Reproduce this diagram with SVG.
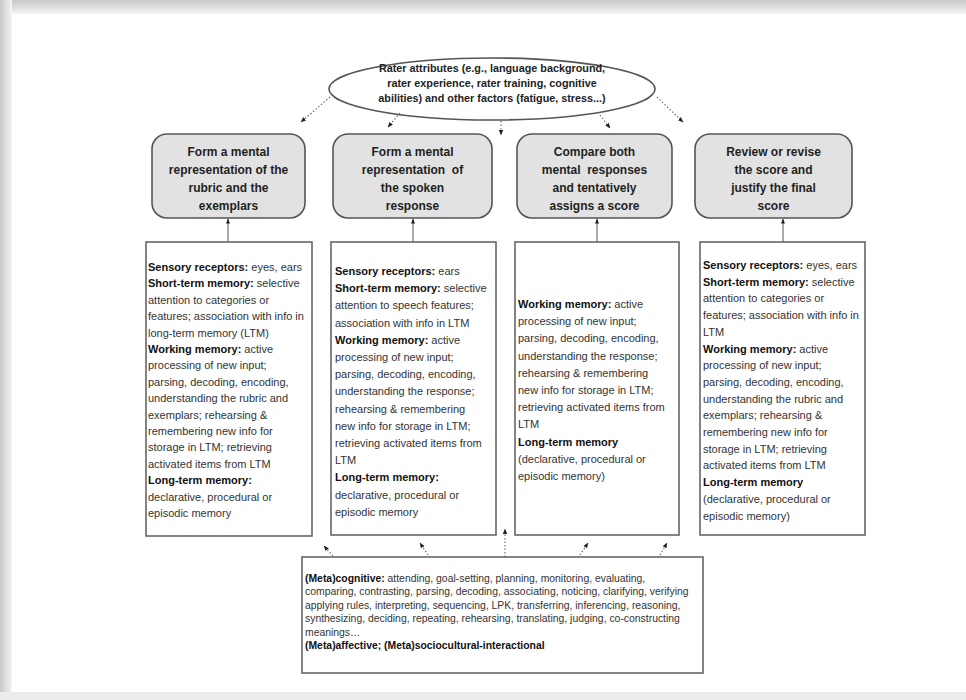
<svg xmlns="http://www.w3.org/2000/svg" width="966" height="700" viewBox="0 0 966 700">
<defs>
<linearGradient id="gTop" x1="0" y1="0" x2="0" y2="1"><stop offset="0" stop-color="#c8c8c8"/><stop offset="1" stop-color="#f4f4f4"/></linearGradient>
<linearGradient id="gLeft" x1="0" y1="0" x2="1" y2="0"><stop offset="0" stop-color="#c8c8c8"/><stop offset="1" stop-color="#f4f4f4"/></linearGradient>
<marker id="ah" viewBox="0 0 10 10" refX="9" refY="5" markerWidth="5" markerHeight="5" orient="auto-start-reverse"><path d="M0,1 L10,5 L0,9 z" fill="#222"/></marker>
</defs>
<style>
.hd{fill:#e2e2e2;stroke:#555;stroke-width:1.6}
.bx{fill:#fff;stroke:#666;stroke-width:1.6}
.ht{font-family:"Liberation Sans",Arial,sans-serif;font-size:12px;font-weight:bold;fill:#222;text-anchor:middle}
.et{font-family:"Liberation Sans",Arial,sans-serif;font-size:10.8px;font-weight:bold;fill:#222;text-anchor:middle}
.tt{font-family:"Liberation Sans",Arial,sans-serif;font-size:11px;fill:#333}
.bt{font-family:"Liberation Sans",Arial,sans-serif;font-size:10.4px;fill:#333}
.b{font-weight:bold;fill:#111}
.dot{fill:none;stroke:#666;stroke-width:1.1;stroke-dasharray:1.5 2}
.sol{fill:none;stroke:#555;stroke-width:1}
</style>
<rect x="0" y="0" width="966" height="700" fill="#fff"/>
<rect x="0" y="0" width="966" height="14" fill="url(#gTop)"/>
<rect x="0" y="0" width="12" height="700" fill="url(#gLeft)"/>
<rect x="0" y="692" width="966" height="8" fill="#ececec"/>

<g id="rater-attributes">
<ellipse cx="492" cy="89" rx="163" ry="31" fill="#fff" stroke="#555" stroke-width="1.6"/>
<text class="et" x="492" y="72">Rater attributes (e.g., language background,</text>
<text class="et" x="492" y="87">rater experience, rater training, cognitive</text>
<text class="et" x="492" y="102">abilities) and other factors (fatigue, stress...)</text>
</g>

<g id="step1">
<rect class="hd" x="152" y="134" width="153" height="84" rx="15"/>
<text class="ht" x="228.5" y="156">Form a mental</text>
<text class="ht" x="228.5" y="174">representation of the</text>
<text class="ht" x="228.5" y="192">rubric and the</text>
<text class="ht" x="228.5" y="210">exemplars</text>
</g>
<g id="step2">
<rect class="hd" x="333" y="134" width="159" height="84" rx="15"/>
<text class="ht" x="412.5" y="156">Form a mental</text>
<text class="ht" x="412.5" y="174" xml:space="preserve">representation  of</text>
<text class="ht" x="412.5" y="192">the spoken</text>
<text class="ht" x="412.5" y="210">response</text>
</g>
<g id="step3">
<rect class="hd" x="517" y="134" width="155" height="84" rx="15"/>
<text class="ht" x="594.5" y="156">Compare both</text>
<text class="ht" x="594.5" y="174" xml:space="preserve">mental  responses</text>
<text class="ht" x="594.5" y="192">and tentatively</text>
<text class="ht" x="594.5" y="210">assigns a score</text>
</g>
<g id="step4">
<rect class="hd" x="695" y="134" width="157" height="84" rx="15"/>
<text class="ht" x="773.5" y="156">Review or revise</text>
<text class="ht" x="773.5" y="174">the score and</text>
<text class="ht" x="773.5" y="192">justify the final</text>
<text class="ht" x="773.5" y="210">score</text>
</g>

<g id="memory1">
<rect class="bx" x="146" y="242" width="166" height="294"/>
<text class="tt" x="148" y="271"><tspan class="b">Sensory receptors:</tspan> eyes, ears</text>
<text class="tt" x="148" y="287.4"><tspan class="b">Short-term memory:</tspan> selective</text>
<text class="tt" x="148" y="303.8">attention to categories or</text>
<text class="tt" x="148" y="320.2">features; association with info in</text>
<text class="tt" x="148" y="336.6">long-term memory (LTM)</text>
<text class="tt" x="148" y="353"><tspan class="b">Working memory:</tspan> active</text>
<text class="tt" x="148" y="369.4">processing of new input;</text>
<text class="tt" x="148" y="385.8">parsing, decoding, encoding,</text>
<text class="tt" x="148" y="402.2">understanding the rubric and</text>
<text class="tt" x="148" y="418.6">exemplars; rehearsing &amp;</text>
<text class="tt" x="148" y="435">remembering new info for</text>
<text class="tt" x="148" y="451.4">storage in LTM; retrieving</text>
<text class="tt" x="148" y="467.8">activated items from LTM</text>
<text class="tt" x="148" y="484.2"><tspan class="b">Long-term memory:</tspan></text>
<text class="tt" x="148" y="500.6">declarative, procedural or</text>
<text class="tt" x="148" y="517">episodic memory</text>
</g>

<g id="memory2">
<rect class="bx" x="331" y="242" width="165" height="293"/>
<text class="tt" x="335" y="275"><tspan class="b">Sensory receptors:</tspan> ears</text>
<text class="tt" x="335" y="292.2"><tspan class="b">Short-term memory:</tspan> selective</text>
<text class="tt" x="335" y="309.4">attention to speech features;</text>
<text class="tt" x="335" y="326.6">association with info in LTM</text>
<text class="tt" x="335" y="343.8"><tspan class="b">Working memory:</tspan> active</text>
<text class="tt" x="335" y="361">processing of new input;</text>
<text class="tt" x="335" y="378.2">parsing, decoding, encoding,</text>
<text class="tt" x="335" y="395.4">understanding the response;</text>
<text class="tt" x="335" y="412.6">rehearsing &amp; remembering</text>
<text class="tt" x="335" y="429.8">new info for storage in LTM;</text>
<text class="tt" x="335" y="447">retrieving activated items from</text>
<text class="tt" x="335" y="464.2">LTM</text>
<text class="tt" x="335" y="481.4"><tspan class="b">Long-term memory:</tspan></text>
<text class="tt" x="335" y="498.6">declarative, procedural or</text>
<text class="tt" x="335" y="515.8">episodic memory</text>
</g>

<g id="memory3">
<rect class="bx" x="515" y="242" width="164" height="293"/>
<text class="tt" x="518" y="308"><tspan class="b">Working memory:</tspan> active</text>
<text class="tt" x="518" y="325.2">processing of new input;</text>
<text class="tt" x="518" y="342.4">parsing, decoding, encoding,</text>
<text class="tt" x="518" y="359.6">understanding the response;</text>
<text class="tt" x="518" y="376.8">rehearsing &amp; remembering</text>
<text class="tt" x="518" y="394">new info for storage in LTM;</text>
<text class="tt" x="518" y="411.2">retrieving activated items from</text>
<text class="tt" x="518" y="428.4">LTM</text>
<text class="tt" x="518" y="445.6"><tspan class="b">Long-term memory</tspan></text>
<text class="tt" x="518" y="462.8">(declarative, procedural or</text>
<text class="tt" x="518" y="480">episodic memory)</text>
</g>

<g id="memory4">
<rect class="bx" x="700" y="242" width="165" height="293"/>
<text class="tt" x="703" y="269"><tspan class="b">Sensory receptors:</tspan> eyes, ears</text>
<text class="tt" x="703" y="285.7"><tspan class="b">Short-term memory:</tspan> selective</text>
<text class="tt" x="703" y="302.4">attention to categories or</text>
<text class="tt" x="703" y="319.1">features; association with info in</text>
<text class="tt" x="703" y="335.8">LTM</text>
<text class="tt" x="703" y="352.5"><tspan class="b">Working memory:</tspan> active</text>
<text class="tt" x="703" y="369.2">processing of new input;</text>
<text class="tt" x="703" y="385.9">parsing, decoding, encoding,</text>
<text class="tt" x="703" y="402.6">understanding the rubric and</text>
<text class="tt" x="703" y="419.3">exemplars; rehearsing &amp;</text>
<text class="tt" x="703" y="436">remembering new info for</text>
<text class="tt" x="703" y="452.7">storage in LTM; retrieving</text>
<text class="tt" x="703" y="469.4">activated items from LTM</text>
<text class="tt" x="703" y="486.1"><tspan class="b">Long-term memory</tspan></text>
<text class="tt" x="703" y="502.8">(declarative, procedural or</text>
<text class="tt" x="703" y="519.5">episodic memory)</text>
</g>

<g id="metacognitive">
<rect class="bx" x="302" y="557" width="401" height="116"/>
<text class="bt" x="305" y="581.5"><tspan class="b">(Meta)cognitive:</tspan> attending, goal-setting, planning, monitoring, evaluating,</text>
<text class="bt" x="305" y="595">comparing, contrasting, parsing, decoding, associating, noticing, clarifying, verifying</text>
<text class="bt" x="305" y="608.5">applying rules, interpreting, sequencing, LPK, transferring, inferencing, reasoning,</text>
<text class="bt" x="305" y="622">synthesizing, deciding, repeating, rehearsing, translating, judging, co-constructing</text>
<text class="bt" x="305" y="635.5">meanings…</text>
<text class="bt" x="305" y="649"><tspan class="b">(Meta)affective; (Meta)sociocultural-interactional</tspan></text>
</g>

<g id="connectors">
<path class="dot" d="M330,97 L301,122" marker-end="url(#ah)"/>
<path class="dot" d="M400,113 L388,127" marker-end="url(#ah)"/>
<path class="dot" d="M501,121 L501,135" marker-end="url(#ah)"/>
<path class="dot" d="M600,115 L610,128" marker-end="url(#ah)"/>
<path class="dot" d="M657,97 L683,122" marker-end="url(#ah)"/>
<path class="sol" d="M228,242 L228,219" marker-end="url(#ah)"/>
<path class="sol" d="M413,242 L413,219" marker-end="url(#ah)"/>
<path class="sol" d="M597,242 L597,219" marker-end="url(#ah)"/>
<path class="sol" d="M783,242 L783,219" marker-end="url(#ah)"/>
<path class="dot" d="M333,556 L324,546" marker-end="url(#ah)"/>
<path class="dot" d="M428,555 L420,543" marker-end="url(#ah)"/>
<path class="dot" d="M505,557 L505,529" marker-end="url(#ah)"/>
<path class="dot" d="M580,555 L588,543" marker-end="url(#ah)"/>
<path class="dot" d="M660,555 L667,543" marker-end="url(#ah)"/>
</g>
</svg>
